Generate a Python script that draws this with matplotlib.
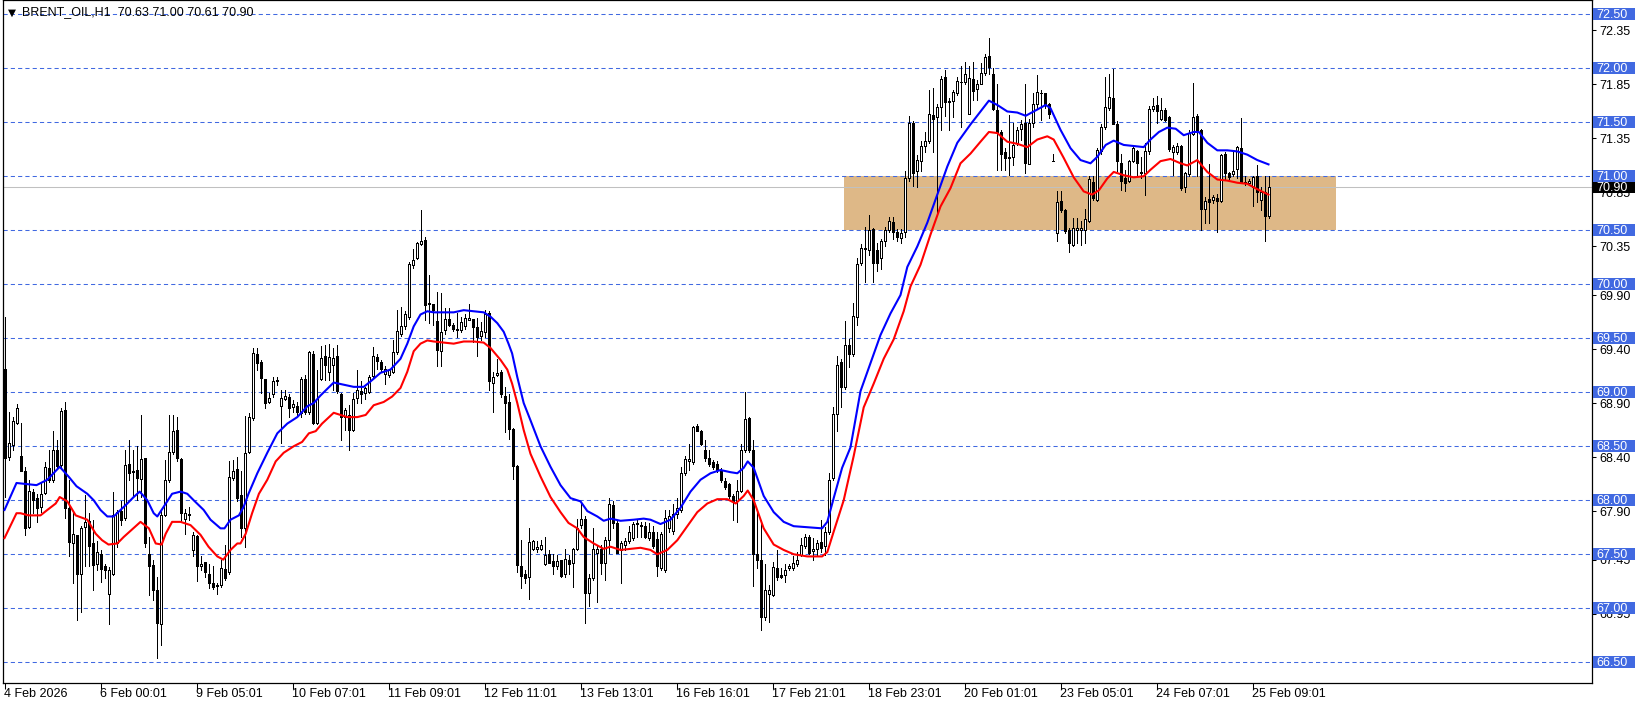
import numpy as np
import matplotlib.pyplot as plt
from matplotlib.patches import Rectangle
from matplotlib.transforms import blended_transform_factory

plt.rcParams['font.family'] = ['Liberation Sans', 'DejaVu Sans']

# ----- H1 candles -----
opens = [
    69.22, 68.40, 68.51, 68.72, 68.41, 68.27, 67.75, 68.08, 68.02, 67.94,
    68.07, 68.30, 68.19, 68.47, 68.33, 68.84, 67.93, 67.60, 67.68, 67.32,
    67.75, 67.81, 67.60, 67.41, 67.50, 67.39, 67.13, 67.32, 67.60, 67.90,
    67.84, 68.34, 68.27, 68.28, 68.20, 68.39, 67.50, 67.40, 67.17, 66.85,
    67.86, 68.19, 68.45, 68.65, 68.38, 67.83, 67.86, 67.54, 67.67, 67.39,
    67.43, 67.32, 67.23, 67.21, 67.22, 67.36, 67.34, 68.21, 68.29, 68.05,
    67.74, 68.45, 68.76, 69.35, 69.28, 69.12, 68.91, 68.98, 69.10, 68.87,
    68.94, 68.96, 68.86, 68.87, 68.81, 69.12, 68.82, 69.35, 68.72, 69.12,
    69.34, 69.19, 69.25, 69.34, 68.98, 68.77, 68.79, 68.65, 68.95, 69.01,
    68.99, 69.00, 69.15, 69.33, 69.28, 69.17, 69.16, 69.19, 69.37, 69.54,
    69.61, 69.70, 70.18, 70.24, 70.37, 70.41, 69.83, 69.82, 69.66, 69.38,
    69.58, 69.68, 69.62, 69.58, 69.58, 69.61, 69.67, 69.68, 69.60, 69.52,
    69.56, 69.73, 69.09, 69.16, 69.19, 68.97, 68.91, 68.66, 68.32, 67.39,
    67.32, 67.29, 67.55, 67.55, 67.55, 67.41, 67.50, 67.44, 67.39, 67.45,
    67.32, 67.45, 67.42, 67.55, 67.77, 67.83, 67.14, 67.28, 67.51, 67.55,
    67.42, 67.63, 67.96, 67.79, 67.54, 67.59, 67.62, 67.65, 67.78, 67.76,
    67.76, 67.65, 67.71, 67.64, 67.37, 67.35, 67.74, 67.72, 67.87, 67.91,
    68.25, 68.36, 68.35, 68.69, 68.64, 68.47, 68.39, 68.35, 68.34, 68.28,
    68.18, 68.15, 68.04, 67.99, 68.09, 68.47, 68.76, 68.47, 67.50, 67.45,
    66.92, 67.13, 67.12, 67.37, 67.31, 67.31, 67.37, 67.37, 67.41, 67.49,
    67.58, 67.66, 67.53, 67.55, 67.61, 67.58, 67.71, 68.21, 68.80, 69.28,
    69.05, 69.44, 69.35, 69.70, 70.20, 70.33, 70.32, 70.51, 70.32, 70.24,
    70.40, 70.50, 70.58, 70.48, 70.43, 70.48, 70.98, 71.49, 71.05, 71.14,
    71.28, 71.33, 71.57, 71.55, 71.64, 71.92, 71.69, 71.70, 71.77, 71.87,
    71.87, 71.58, 71.90, 71.81, 71.85, 71.96, 72.11, 71.95, 71.61, 71.41,
    71.22, 71.17, 71.18, 71.31, 71.44, 71.49, 71.11, 71.49, 71.67, 71.77,
    71.77, 71.67, 71.14, 70.47, 70.77, 70.69, 70.50, 70.36, 70.50, 70.50,
    70.50, 70.59, 70.95, 70.78, 71.23, 71.46, 71.63, 71.72, 71.48, 71.12,
    70.98, 70.96, 71.14, 71.23, 71.03, 71.03, 71.23, 71.62, 71.66, 71.53,
    71.61, 71.55, 71.22, 71.22, 71.28, 70.90, 71.02, 71.39, 71.56, 71.43,
    70.70, 70.79, 70.78, 70.80, 70.77, 71.21, 71.03, 71.02, 71.07, 71.26,
    70.95, 70.94, 70.90, 71.00, 70.78, 70.85, 70.63,
]
highs = [
    69.70, 68.82, 68.77, 68.89, 68.72, 68.31, 68.19, 68.10, 68.06, 68.16,
    68.35, 68.47, 68.64, 68.56, 68.85, 68.91, 68.19, 67.88, 67.68, 67.76,
    68.05, 67.88, 67.82, 67.62, 67.54, 67.41, 67.38, 68.08, 67.91, 67.99,
    68.47, 68.56, 68.47, 68.50, 68.79, 68.39, 67.66, 67.45, 67.29, 67.91,
    68.37, 68.79, 68.79, 68.77, 68.39, 67.92, 67.94, 67.71, 67.68, 67.48,
    67.43, 67.41, 67.39, 67.23, 67.45, 67.59, 68.36, 68.37, 68.40, 68.27,
    68.78, 68.81, 69.41, 69.41, 69.30, 69.12, 68.99, 69.14, 69.14, 69.02,
    69.02, 68.98, 68.93, 68.91, 69.14, 69.16, 69.38, 69.38, 69.21, 69.43,
    69.44, 69.45, 69.41, 69.44, 68.99, 68.85, 68.88, 68.99, 69.21, 69.10,
    69.05, 69.16, 69.42, 69.35, 69.30, 69.24, 69.22, 69.48, 69.76, 69.79,
    69.75, 70.21, 70.33, 70.39, 70.69, 70.44, 70.09, 69.82, 69.93, 69.92,
    69.78, 69.78, 69.64, 69.73, 69.70, 69.72, 69.82, 69.68, 69.69, 69.65,
    69.76, 69.75, 69.19, 69.31, 69.21, 69.05, 68.98, 68.67, 68.33, 67.63,
    67.35, 67.74, 67.63, 67.62, 67.63, 67.66, 67.54, 67.50, 67.49, 67.45,
    67.55, 67.49, 67.56, 67.83, 67.97, 67.85, 67.32, 67.74, 67.59, 67.59,
    67.66, 68.02, 67.99, 67.82, 67.62, 67.65, 67.76, 67.80, 67.82, 67.80,
    67.80, 67.79, 67.76, 67.71, 67.71, 67.91, 67.91, 67.97, 68.02, 68.31,
    68.41, 68.52, 68.69, 68.71, 68.65, 68.56, 68.47, 68.37, 68.36, 68.30,
    68.21, 68.16, 68.06, 68.19, 68.52, 69.00, 68.77, 68.56, 67.89, 67.82,
    67.41, 67.22, 67.43, 67.54, 67.37, 67.41, 67.41, 67.48, 67.52, 67.65,
    67.69, 67.68, 67.65, 67.63, 67.82, 67.75, 68.25, 68.86, 69.34, 69.31,
    69.66, 69.49, 69.83, 70.24, 70.37, 70.53, 70.64, 70.52, 70.38, 70.42,
    70.53, 70.62, 70.62, 70.51, 70.51, 71.05, 71.56, 71.51, 71.20, 71.33,
    71.41, 71.80, 71.82, 71.67, 71.93, 71.98, 71.72, 71.80, 71.92, 72.02,
    72.06, 72.02, 72.06, 71.89, 72.05, 72.13, 72.28, 72.00, 71.85, 71.43,
    71.26, 71.57, 71.49, 71.46, 71.52, 71.85, 71.53, 71.77, 71.94, 71.80,
    71.77, 71.68, 71.21, 70.86, 70.86, 70.70, 70.52, 70.61, 70.61, 70.59,
    70.70, 71.00, 71.00, 71.26, 71.48, 71.92, 71.95, 71.99, 71.51, 71.21,
    71.06, 71.15, 71.29, 71.24, 71.18, 71.31, 71.65, 71.72, 71.74, 71.72,
    71.63, 71.56, 71.29, 71.31, 71.29, 71.04, 71.43, 71.86, 71.58, 71.44,
    70.81, 71.11, 70.83, 70.84, 71.21, 71.22, 71.04, 71.24, 71.28, 71.54,
    71.00, 70.97, 71.00, 71.10, 70.90, 71.00, 71.00,
]
lows = [
    68.03, 68.37, 68.47, 68.71, 68.27, 67.68, 67.74, 67.88, 67.80, 67.89,
    68.06, 68.17, 68.17, 68.30, 68.31, 67.84, 67.48, 67.23, 66.89, 66.97,
    67.39, 67.39, 67.17, 67.35, 67.24, 67.28, 66.85, 67.31, 67.57, 67.77,
    67.82, 68.19, 68.03, 68.00, 68.03, 67.57, 67.12, 67.08, 66.54, 66.66,
    67.85, 68.17, 68.43, 68.36, 67.80, 67.69, 67.82, 67.48, 67.25, 67.35,
    67.29, 67.19, 67.18, 67.13, 67.20, 67.26, 67.32, 68.19, 67.99, 67.66,
    67.57, 68.44, 68.74, 69.21, 68.99, 68.85, 68.90, 68.96, 69.07, 68.53,
    68.93, 68.77, 68.82, 68.77, 68.77, 68.80, 68.80, 68.71, 68.71, 69.11,
    69.11, 69.11, 69.02, 68.99, 68.56, 68.65, 68.47, 68.64, 68.90, 68.90,
    68.94, 68.99, 69.14, 69.22, 69.19, 69.08, 69.14, 69.18, 69.35, 69.52,
    69.59, 69.68, 70.15, 70.23, 70.36, 69.67, 69.64, 69.62, 69.24, 69.24,
    69.54, 69.61, 69.57, 69.51, 69.56, 69.59, 69.67, 69.47, 69.34, 69.48,
    69.51, 69.02, 68.82, 69.15, 68.96, 68.63, 68.57, 68.20, 67.34, 67.19,
    67.23, 67.09, 67.54, 67.52, 67.54, 67.40, 67.42, 67.32, 67.36, 67.29,
    67.29, 67.32, 67.20, 67.54, 67.74, 66.86, 67.02, 67.26, 67.06, 67.32,
    67.26, 67.51, 67.74, 67.51, 67.23, 67.54, 67.60, 67.63, 67.66, 67.66,
    67.65, 67.63, 67.56, 67.30, 67.35, 67.34, 67.71, 67.69, 67.84, 67.89,
    68.23, 68.28, 68.34, 68.64, 68.51, 68.36, 68.32, 68.29, 68.26, 68.17,
    68.10, 68.02, 67.82, 67.80, 68.08, 68.45, 68.45, 67.21, 67.37, 66.80,
    66.89, 66.87, 67.11, 67.26, 67.28, 67.24, 67.35, 67.35, 67.39, 67.48,
    67.56, 67.50, 67.45, 67.48, 67.52, 67.49, 67.69, 68.19, 68.64, 68.86,
    69.03, 69.23, 69.34, 69.62, 70.18, 70.02, 70.27, 70.02, 70.12, 70.14,
    70.35, 70.48, 70.42, 70.40, 70.38, 70.44, 70.96, 70.91, 70.90, 71.05,
    71.22, 71.31, 71.22, 70.66, 71.43, 71.56, 71.43, 71.55, 71.75, 71.46,
    71.85, 71.58, 71.71, 71.71, 71.85, 71.94, 71.95, 71.61, 71.06, 71.06,
    71.06, 71.01, 71.10, 71.29, 71.34, 71.03, 71.11, 71.46, 71.63, 71.52,
    71.63, 71.54, 71.14, 70.40, 70.67, 70.47, 70.30, 70.35, 70.38, 70.36,
    70.38, 70.58, 70.78, 70.77, 71.21, 71.44, 71.61, 71.48, 71.05, 70.87,
    70.86, 70.95, 71.13, 71.01, 70.98, 70.83, 71.21, 71.60, 71.49, 71.52,
    71.51, 71.23, 71.01, 71.21, 70.87, 70.85, 71.00, 71.38, 71.00, 70.50,
    70.57, 70.57, 70.75, 70.48, 70.76, 70.97, 70.97, 71.00, 70.98, 70.94,
    70.92, 70.93, 70.72, 70.76, 70.69, 70.40, 70.61,
]
closes = [
    68.39, 68.53, 68.73, 68.85, 68.27, 67.74, 68.09, 68.00, 67.93, 68.06,
    68.31, 68.19, 68.47, 68.32, 68.83, 67.93, 67.61, 67.69, 67.32, 67.74,
    67.80, 67.58, 67.40, 67.52, 67.36, 67.35, 67.35, 67.86, 67.89, 67.82,
    68.33, 68.25, 68.26, 68.21, 68.38, 67.60, 67.39, 67.17, 66.86, 67.86,
    68.19, 68.45, 68.64, 68.39, 67.88, 67.88, 67.87, 67.68, 67.39, 67.41,
    67.34, 67.23, 67.20, 67.21, 67.37, 67.28, 68.22, 68.27, 68.02, 67.74,
    68.44, 68.77, 69.36, 69.27, 69.13, 68.90, 68.95, 69.10, 69.11, 68.95,
    68.97, 68.85, 68.89, 68.82, 69.12, 68.82, 69.37, 68.72, 68.94, 69.32,
    69.25, 69.33, 69.32, 69.01, 68.77, 68.84, 68.65, 68.94, 69.02, 68.98,
    69.04, 69.14, 69.34, 69.29, 69.22, 69.22, 69.21, 69.37, 69.57, 69.61,
    69.72, 70.19, 70.22, 70.38, 70.40, 69.81, 69.82, 69.76, 69.39, 69.56,
    69.68, 69.62, 69.59, 69.58, 69.65, 69.69, 69.69, 69.60, 69.51, 69.57,
    69.72, 69.10, 69.14, 69.18, 68.98, 68.90, 68.66, 68.32, 67.40, 67.30,
    67.28, 67.61, 67.62, 67.57, 67.59, 67.49, 67.42, 67.39, 67.44, 67.30,
    67.46, 67.41, 67.55, 67.74, 67.83, 67.14, 67.28, 67.55, 67.55, 67.42,
    67.63, 67.97, 67.79, 67.51, 67.60, 67.62, 67.71, 67.78, 67.79, 67.77,
    67.66, 67.71, 67.58, 67.39, 67.69, 67.84, 67.85, 67.87, 67.93, 68.25,
    68.38, 68.38, 68.68, 68.64, 68.52, 68.39, 68.34, 68.31, 68.28, 68.19,
    68.12, 68.04, 67.99, 68.09, 68.47, 68.75, 68.47, 67.50, 67.45, 66.92,
    67.17, 67.17, 67.38, 67.29, 67.29, 67.35, 67.39, 67.42, 67.45, 67.59,
    67.66, 67.51, 67.55, 67.60, 67.56, 67.71, 68.19, 68.80, 69.25, 69.05,
    69.44, 69.35, 69.71, 70.19, 70.34, 70.33, 70.50, 70.20, 70.20, 70.40,
    70.50, 70.59, 70.48, 70.44, 70.47, 70.98, 71.49, 71.03, 71.15, 71.28,
    71.33, 71.58, 71.53, 71.64, 71.90, 71.69, 71.70, 71.78, 71.88, 71.87,
    71.95, 71.91, 71.79, 71.85, 71.96, 72.10, 72.01, 71.62, 71.41, 71.21,
    71.17, 71.17, 71.29, 71.43, 71.48, 71.12, 71.49, 71.67, 71.78, 71.77,
    71.67, 71.58, 71.14, 70.76, 70.69, 70.49, 70.38, 70.52, 70.52, 70.52,
    70.60, 70.97, 70.80, 71.24, 71.46, 71.64, 71.73, 71.48, 71.14, 70.96,
    70.94, 71.14, 71.26, 71.12, 71.04, 71.23, 71.62, 71.65, 71.60, 71.61,
    71.52, 71.25, 71.27, 71.28, 70.89, 71.03, 71.40, 71.55, 71.43, 70.70,
    70.77, 70.76, 70.81, 70.77, 71.20, 71.03, 70.99, 71.05, 71.27, 70.95,
    70.94, 70.96, 70.99, 70.85, 70.85, 70.63, 70.90,
]

# ----- indicator lines (bar index, price) -----
blue_x = [0, 3, 5.5, 8, 10.7, 13.8, 16, 18, 20.7, 22.3, 24, 25.7, 27.3, 29, 30.7,
          32.3, 33.8, 35.7, 37.3, 38.2, 39.8, 41.9, 44, 45.7, 47.3, 49.8, 51.5, 54,
          55, 56.5, 58.6, 59.8, 61, 63.2, 65.7, 68.2, 70.7, 73.2, 75.7, 77.3, 79,
          82.3, 84.8, 87.3, 89.8, 91.5, 94, 96.5, 99, 100.7, 102.3, 104, 105.7, 107.3,
          109.8, 112.3, 114.8, 117.3, 119.8, 121.5, 123.2, 124.8, 126, 126.9, 128.2,
          129.8, 131.5, 134, 136.5, 139, 141.5, 144, 145.7, 148.2, 149.8, 151.5, 154,
          157.3, 159.8, 161.5, 164, 166.5, 169, 171.5, 174, 176.5, 179, 181.5, 183.2,
          184.8, 185.8, 187.3, 189.8, 192.3, 194.8, 197.3, 200.7, 204.4, 205.7, 207.3,
          209.4, 211.5, 214, 216.5, 219, 221.5, 224, 225.7, 228.2, 230.7, 233.2, 235.7,
          238.2, 241.5, 244, 246.1, 248.2, 250.7, 253.2, 255.3, 257.3, 260.3, 261.5,
          264, 266.5, 269, 271.5, 273.2, 275.3, 277.3, 279.8, 282.3, 284.8, 286.5,
          288.6, 290.7, 292.8, 294.8, 297.3, 298.6, 300.7, 303.2, 305.7, 308.2, 310.7,
          313.2, 316]
blue_y = [67.91, 68.16, 68.15, 68.14, 68.19, 68.31, 68.22, 68.13, 68.06, 68.00, 67.91,
          67.85, 67.85, 67.91, 67.97, 68.03, 68.08, 68.00, 67.88, 67.85, 67.94, 68.06,
          68.08, 68.06, 68.00, 67.91, 67.82, 67.74, 67.74, 67.82, 67.86, 67.94, 68.06,
          68.25, 68.44, 68.62, 68.71, 68.77, 68.87, 68.90, 68.97, 69.09, 69.07, 69.05,
          69.05, 69.10, 69.18, 69.21, 69.31, 69.45, 69.61, 69.72, 69.75, 69.74, 69.74,
          69.74, 69.76, 69.75, 69.74, 69.70, 69.64, 69.56, 69.45, 69.36, 69.14, 68.90,
          68.74, 68.50, 68.31, 68.14, 68.02, 67.99, 67.90, 67.85, 67.81, 67.83, 67.81,
          67.82, 67.83, 67.82, 67.78, 67.82, 67.93, 68.08, 68.19, 68.25, 68.28, 68.26,
          68.25, 68.30, 68.36, 68.30, 68.04, 67.89, 67.80, 67.76, 67.75, 67.74, 67.80,
          68.02, 68.30, 68.49, 69.01, 69.27, 69.53, 69.73, 69.90, 70.16, 70.35, 70.57,
          70.83, 71.09, 71.31, 71.48, 71.60, 71.70, 71.66, 71.60, 71.59, 71.56, 71.60,
          71.66, 71.63, 71.43, 71.26, 71.15, 71.12, 71.18, 71.29, 71.33, 71.29, 71.28,
          71.27, 71.34, 71.41, 71.45, 71.44, 71.38, 71.41, 71.41, 71.31, 71.24, 71.24,
          71.23, 71.20, 71.15, 71.11]
red_x = [0, 3, 4, 6, 9, 10.7, 12.8, 13.8, 15.7, 17.8, 20.7, 22.8, 24.4, 26, 28.2,
         29.8, 31.9, 34, 36.1, 37.8, 39.3, 40.3, 41.9, 44, 46.5, 49, 51, 53.2, 54.7,
         56.5, 58.2, 59, 60.3, 61.9, 63.6, 65.7, 67.8, 69.8, 72.3, 74.4, 76.1, 77.8,
         79.4, 82.3, 85.7, 88.2, 90.3, 92.3, 94.8, 96.9, 99, 100.7, 102.3, 104, 105.7,
         107.3, 109.8, 112.3, 114.8, 117.3, 119.8, 121.5, 124, 125.7, 126.9, 128.2,
         129.8, 131.5, 134, 136.5, 139, 141, 143.2, 144.8, 147.3, 149.8, 151.5, 154,
         156.5, 159, 161.5, 163.2, 165.7, 168.2, 170.7, 173.2, 175.7, 178.2, 180.7,
         182.8, 184.8, 185.8, 187.3, 189.8, 192.3, 194.8, 197.3, 200.7, 204.4, 205.7,
         207.3, 209.8, 212.3, 214.8, 217.3, 219.8, 222.3, 224.8, 226.5, 229, 231.5,
         234, 236.5, 239, 241.5, 244, 246.1, 248.2, 250.7, 253.2, 255.7, 258.2, 260.7,
         262.3, 264.8, 267.3, 269.8, 271.9, 273.6, 275.7, 277.3, 279.8, 282.3, 284.8,
         286.5, 289, 291.5, 294, 295.7, 298.2, 300.7, 303.2, 305.7, 308.2, 310.7,
         313.2, 316]
red_y = [67.65, 67.88, 67.88, 67.86, 67.86, 67.91, 67.97, 68.03, 67.99, 67.86, 67.82,
         67.69, 67.63, 67.59, 67.60, 67.66, 67.73, 67.80, 67.74, 67.60, 67.59, 67.69,
         67.80, 67.80, 67.77, 67.68, 67.57, 67.48, 67.45, 67.54, 67.60, 67.60, 67.69,
         67.88, 68.06, 68.19, 68.36, 68.44, 68.50, 68.54, 68.62, 68.64, 68.71, 68.81,
         68.77, 68.77, 68.79, 68.88, 68.91, 68.96, 69.04, 69.19, 69.38, 69.45, 69.48,
         69.47, 69.46, 69.45, 69.47, 69.47, 69.46, 69.41, 69.30, 69.21, 69.08, 68.90,
         68.65, 68.43, 68.22, 68.03, 67.89, 67.79, 67.74, 67.66, 67.60, 67.55, 67.57,
         67.54, 67.55, 67.56, 67.54, 67.50, 67.54, 67.63, 67.76, 67.89, 67.97, 68.01,
         68.01, 67.97, 68.04, 68.09, 68.00, 67.74, 67.59, 67.54, 67.50, 67.48, 67.48,
         67.52, 67.71, 68.00, 68.41, 68.86, 69.08, 69.31, 69.49, 69.75, 69.98, 70.18,
         70.46, 70.72, 70.89, 71.12, 71.21, 71.32, 71.41, 71.40, 71.32, 71.30, 71.27,
         71.34, 71.37, 71.34, 71.17, 70.99, 70.86, 70.83, 70.87, 70.98, 71.04, 71.01,
         70.99, 71.00, 71.06, 71.14, 71.16, 71.12, 71.10, 71.15, 71.04, 70.97, 70.96,
         70.94, 70.93, 70.88, 70.83]

# ----- axes labels / levels -----
date_bars = [0, 24, 48, 72, 96, 120, 144, 168, 192, 216, 240, 264, 288, 312]
date_labels = ['4 Feb 2026', '6 Feb 00:01', '9 Feb 05:01', '10 Feb 07:01', '11 Feb 09:01',
               '12 Feb 11:01', '13 Feb 13:01', '16 Feb 16:01', '17 Feb 21:01',
               '18 Feb 23:01', '20 Feb 01:01', '23 Feb 05:01', '24 Feb 07:01',
               '25 Feb 09:01']
scale_prices = [72.35, 71.85, 71.35, 70.85, 70.35, 69.90, 69.40, 68.90, 68.40,
                67.90, 67.45, 66.95]
hline_prices = [72.50, 72.00, 71.50, 71.00, 70.50, 70.00, 69.50, 69.00, 68.50,
                68.00, 67.50, 67.00, 66.50]
last_price = 70.90
zone_bars = (209.8, 332.75)
zone_prices = (70.50, 71.00)
title = 'BRENT_OIL,H1  70.63 71.00 70.61 70.90'

LINE_BLUE = '#4169E1'

W, H = 1641, 707
fig = plt.figure(figsize=(W / 100, H / 100), dpi=100)
ax = fig.add_axes([3 / W, 1 - 683 / H, (1592 - 3) / W, 683 / H])
# 4 px per bar, bar centres on pixel centres
ax.set_xlim(-0.375, 396.875)
ax.set_ylim(66.308, 72.632)

o = np.array(opens)
hi = np.array(highs)
lo = np.array(lows)
c = np.array(closes)
x = np.arange(len(c))
up = c >= o

# zone + lines
ax.add_patch(Rectangle((zone_bars[0], zone_prices[0]), zone_bars[1] - zone_bars[0],
                       zone_prices[1] - zone_prices[0], facecolor='#DEB887',
                       edgecolor='none', zorder=1))
for lv in hline_prices:
    ax.axhline(lv, color=LINE_BLUE, lw=0.75, ls=(0, (4, 3)), zorder=2)
ax.axhline(last_price, color='#C0C0C0', lw=0.75, zorder=2)

# candles: wick, then 3 px body (black edge, white or black fill)
ax.vlines(x, lo, hi, color='black', lw=0.72, zorder=3, antialiased=False)
body_lo = np.minimum(o, c)
body_h = np.maximum(np.abs(c - o), 0.004)
ax.bar(x[up], body_h[up], bottom=body_lo[up], width=0.5, color='white',
       edgecolor='black', linewidth=0.72, zorder=4, antialiased=False)
ax.bar(x[~up], body_h[~up], bottom=body_lo[~up], width=0.5, color='black',
       edgecolor='black', linewidth=0.72, zorder=4, antialiased=False)

# indicator lines
ax.plot(blue_x, blue_y, color='#0000FF', lw=1.5, zorder=5)
ax.plot(red_x, red_y, color='#FF0000', lw=1.5, zorder=5)

# frame
for s in ax.spines.values():
    s.set_color('black')
    s.set_linewidth(0.9)

# price scale
ax.yaxis.tick_right()
ax.set_yticks(scale_prices)
ax.set_yticklabels([f'{p:.2f}' for p in scale_prices])
ax.tick_params(axis='y', direction='out', length=3, width=0.75, pad=2,
               labelsize=9, colors='black')

# time scale
ax.set_xticks(date_bars)
ax.tick_params(axis='x', direction='out', length=4, width=0.75, labelbottom=False)
for b, lab in zip(date_bars, date_labels):
    ax.text(b, -0.0165, lab, transform=ax.get_xaxis_transform(),
            ha='left', va='center', fontsize=9, color='black')

# price labels of the horizontal lines
tr = blended_transform_factory(fig.transFigure, ax.transData)
px = 1 / 108.0
for lv in hline_prices:
    ax.add_patch(Rectangle((1593 / W, lv - 6 * px), 42 / W, 12 * px, transform=tr,
                           facecolor=LINE_BLUE, edgecolor='none', clip_on=False,
                           zorder=10))
    ax.text(1596 / W, lv - 0.5 * px, f'{lv:.2f}', transform=tr, color='white',
            fontsize=9, ha='left', va='center', zorder=11, clip_on=False)
ax.add_patch(Rectangle((1593 / W, last_price - 5.5 * px), 42 / W, 11 * px, transform=tr,
                       facecolor='black', edgecolor='none', clip_on=False, zorder=10))
ax.text(1596 / W, last_price - 0.5 * px, f'{last_price:.2f}', transform=tr,
        color='white', fontsize=9, ha='left', va='center', zorder=11, clip_on=False)

# header
fig.text(8 / W, 1 - 12.5 / H, '\u25bc', fontsize=7.5, ha='left', va='center',
         family=['DejaVu Sans'])
fig.text(21.5 / W, 1 - 12.5 / H, title, fontsize=9, ha='left', va='center')

fig.savefig('out.png', dpi=100)
